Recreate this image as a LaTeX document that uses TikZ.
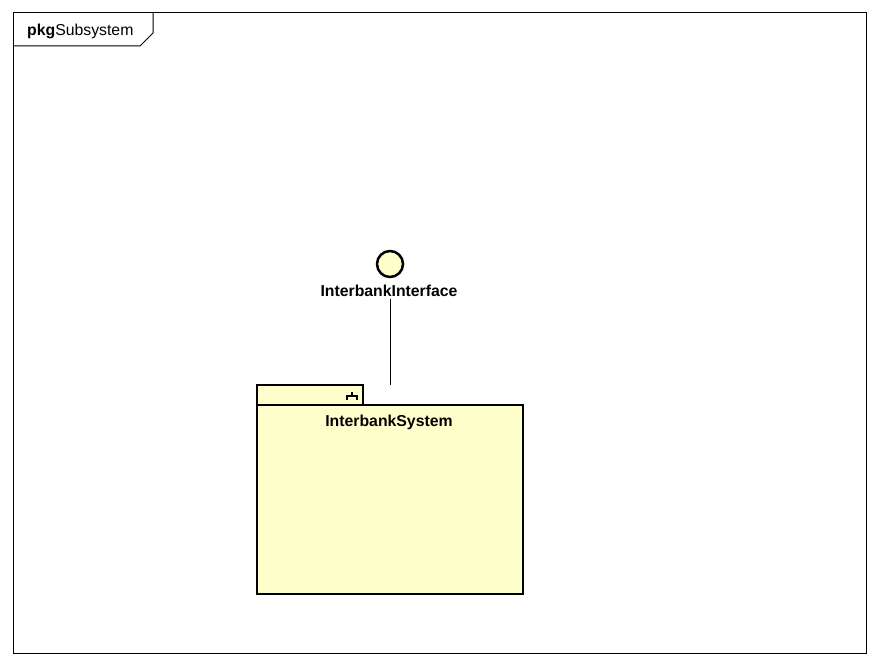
\documentclass[tikz,border=0pt]{standalone}
\usepackage{fontspec}
\setmainfont{Liberation Sans}
\definecolor{umlfill}{HTML}{FFFFCC}
\begin{document}
\begin{tikzpicture}[x=1pt,y=-1pt,
  frameline/.style={draw=black,line width=1pt},
  thick uml/.style={draw=black,line width=2.5pt,fill=umlfill},
  lbl/.style={font=\fontsize{15.8}{18}\selectfont\bfseries,inner sep=0pt}]
\useasboundingbox[fill=white] (0,0) rectangle (880,666);
% frame
\draw[frameline] (13,13) rectangle (866,653);
\draw[frameline] (13,46) -- (140,46) -- (153,33) -- (153,13);
\node[anchor=west,inner sep=0pt,font=\fontsize{15.8}{18}\selectfont] (title) at (27,31.5) {\textbf{pkg}Subsystem};
% interface
\node[circle,draw=black,line width=2.5pt,fill=umlfill,minimum size=26pt,inner sep=0pt] (iface) at (390,264) {};
\node[lbl] (ifacelbl) at (389,291) {InterbankInterface};
% package
\draw[thick uml] (257,385) rectangle (363,405);
\draw[thick uml] (257,405) rectangle (523,594);
\node[lbl] (pkg) at (389,422.5) {InterbankSystem};
\draw[line width=1.2pt] (352,391.5) -- (352,396) (347,400) -- (347,396) -- (357,396) -- (357,400);
\coordinate (pkgtop) at (390,385);
\draw[line width=1pt] (ifacelbl.south -| pkgtop) ++(0,2) -- (pkgtop);
\end{tikzpicture}
\end{document}
